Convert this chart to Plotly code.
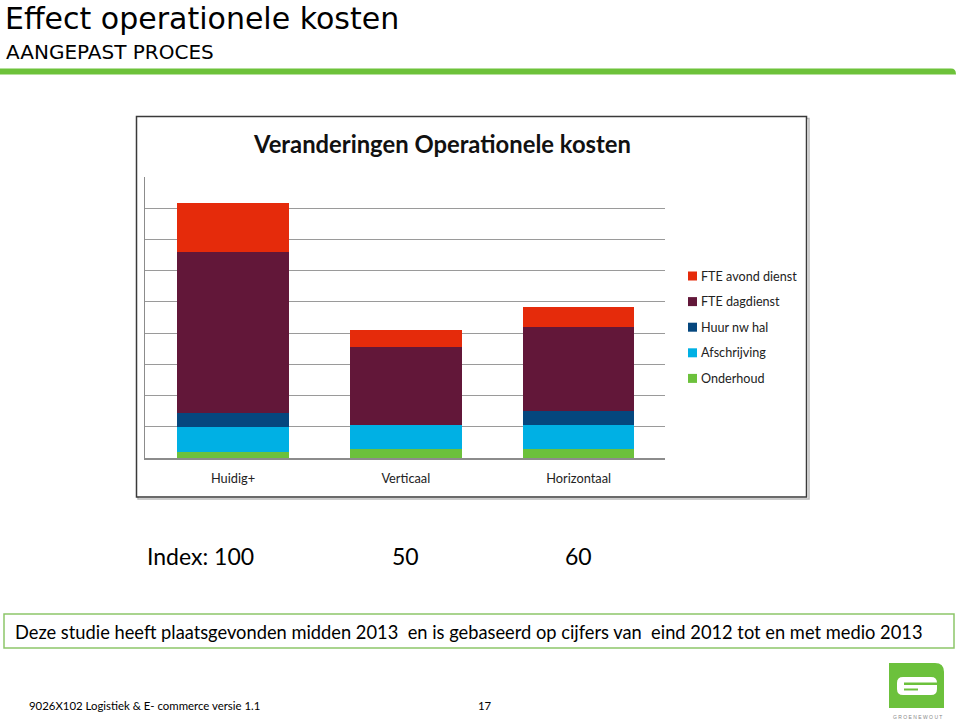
import plotly.graph_objects as go

# ---------------- data ----------------
categories = ["Huidig+", "Verticaal", "Horizontaal"]
series_names = ["Onderhoud", "Afschrijving", "Huur nw hal", "FTE dagdienst", "FTE avond dienst"]
onderhoud = [0.19, 0.28, 0.28]
afschrijving = [0.79, 0.79, 0.79]
huur_nw_hal = [0.46, 0.0, 0.43]
fte_dagdienst = [5.17, 2.48, 2.69]
fte_avond_dienst = [1.57, 0.54, 0.66]
index_labels = ["Index: 100", "50", "60"]

series_values = [onderhoud, afschrijving, huur_nw_hal, fte_dagdienst, fte_avond_dienst]
series_colors = ["#6CC13C", "#00B0E4", "#05477E", "#621739", "#E52B0B"]

# ---------------- geometry helpers (pixel -> paper) ----------------
W, H = 960, 722
PL, PR, PT, PB = 145, 665, 177, 458


def fx(x):
    return (x - PL) / (PR - PL)


def fy(y):
    return (PB - y) / (PB - PT)


def path(cmds):
    out = []
    for c in cmds:
        if isinstance(c, str):
            out.append(c)
        else:
            out.append(f"{fx(c[0]):.5f},{fy(c[1]):.5f}")
    return " ".join(out)


fig = go.Figure()
for name, vals, col in zip(series_names, series_values, series_colors):
    fig.add_trace(go.Bar(
        x=categories, y=vals, name=name,
        marker=dict(color=col, line=dict(width=0)),
        hoverinfo="name+y", showlegend=False,
    ))

shapes = []
annotations = []

# slide title & subtitle
annotations.append(dict(text="Effect operationele kosten", x=fx(3), y=fy(-1), xref="paper", yref="paper",
                        xanchor="left", yanchor="top", showarrow=False,
                        font=dict(family="DejaVu Sans", size=30, color="#000")))
annotations.append(dict(text="AANGEPAST PROCES", x=fx(4), y=fy(52), xref="paper", yref="paper",
                        xanchor="left", yanchor="middle", showarrow=False,
                        font=dict(family="DejaVu Sans", size=20, color="#000")))
# green bar with rounded right end
shapes.append(dict(type="path", xref="paper", yref="paper", line=dict(width=0), fillcolor="#6DC23A",
                   path=path(["M", (0, 68.5), "L", (951, 68.5), "Q", (956, 68.5), (956, 74.5), "L", (0, 74.5), "Z"])))

# chart frame (with slight shadow)
shapes.append(dict(type="rect", xref="paper", yref="paper", x0=fx(138), x1=fx(809), y0=fy(118.5), y1=fy(499),
                   line=dict(color="#BBBBBB", width=1.5), layer="below"))
shapes.append(dict(type="rect", xref="paper", yref="paper", x0=fx(136.5), x1=fx(806.5), y0=fy(116.5), y1=fy(497),
                   line=dict(color="#3A3A3A", width=1.5), fillcolor="white", layer="below"))

# chart title
annotations.append(dict(text="<b>Veranderingen Operationele kosten</b>", x=fx(442), y=fy(144), xref="paper", yref="paper",
                        xanchor="center", yanchor="middle", showarrow=False,
                        font=dict(family="Lato", size=23.8, color="#111")))

# legend (top entry = top of stack)
legend_top, legend_step = 276, 25.6
for i, (name, col) in enumerate(zip(reversed(series_names), reversed(series_colors))):
    yc = legend_top + i * legend_step
    shapes.append(dict(type="rect", xref="paper", yref="paper", line=dict(width=0), fillcolor=col,
                       x0=fx(688), x1=fx(697), y0=fy(yc - 4.5), y1=fy(yc + 4.5)))
    annotations.append(dict(text=name, x=fx(699), y=fy(yc), xref="paper", yref="paper",
                            xanchor="left", yanchor="middle", showarrow=False,
                            font=dict(family="Lato", size=12.6, color="#222")))

# index labels under the chart
for i, (cat, lab) in enumerate(zip(categories, index_labels)):
    annotations.append(dict(text=lab, x=cat, xref="x", y=fy(556), yref="paper",
                            xanchor="right" if i == 0 else "center", xshift=23 if i == 0 else 0,
                            yanchor="middle", showarrow=False,
                            font=dict(family="Lato", size=23, color="#000")))

# bordered note
shapes.append(dict(type="rect", xref="paper", yref="paper", x0=fx(4), x1=fx(954), y0=fy(614), y1=fy(648),
                   line=dict(color="#8DC66A", width=1.5)))
annotations.append(dict(text="Deze studie heeft plaatsgevonden midden 2013  en is gebaseerd op cijfers van  eind 2012 tot en met medio 2013",
                        x=fx(13), y=fy(632), xref="paper", yref="paper", xanchor="left", yanchor="middle",
                        showarrow=False, font=dict(family="Lato", size=18.3, color="#000")))

# footer
annotations.append(dict(text="9026X102 Logistiek & E- commerce versie 1.1", x=fx(27), y=fy(705), xref="paper", yref="paper",
                        xanchor="left", yanchor="middle", showarrow=False,
                        font=dict(family="Lato", size=11.4, color="#000")))
annotations.append(dict(text="17", x=fx(485), y=fy(705), xref="paper", yref="paper",
                        xanchor="center", yanchor="middle", showarrow=False,
                        font=dict(family="Lato", size=11.4, color="#000")))

# logo
shapes.append(dict(type="path", xref="paper", yref="paper", line=dict(width=0), fillcolor="#6CC13C",
                   path=path(["M", (889, 663), "L", (935, 663), "Q", (944, 663), (944, 672), "L", (944, 708),
                              "L", (889, 708), "Z"])))
shapes.append(dict(type="path", xref="paper", yref="paper", line=dict(width=0), fillcolor="white",
                   path=path(["M", (903, 677), "L", (931, 677), "Q", (937, 677), (937, 683), "L", (937, 689),
                              "Q", (937, 695), (931, 695), "L", (903, 695), "Q", (897, 695), (897, 689),
                              "L", (897, 683), "Q", (897, 677), (903, 677), "Z"])))
shapes.append(dict(type="rect", xref="paper", yref="paper", line=dict(width=0), fillcolor="#6CC13C",
                   x0=fx(904), x1=fx(938), y0=fy(682.5), y1=fy(685)))
shapes.append(dict(type="rect", xref="paper", yref="paper", line=dict(width=0), fillcolor="#6CC13C",
                   x0=fx(904), x1=fx(918), y0=fy(688.5), y1=fy(690.5)))
annotations.append(dict(text="G R O E N E W O U T", x=fx(917), y=fy(717), xref="paper", yref="paper",
                        xanchor="center", yanchor="middle", showarrow=False,
                        font=dict(family="Liberation Sans", size=5, color="#888")))

fig.update_layout(
    width=W, height=H,
    margin=dict(l=PL, r=W - PR, t=PT, b=H - PB, pad=0),
    paper_bgcolor="white", plot_bgcolor="white",
    barmode="stack", bargap=0.354,
    showlegend=False,
    xaxis=dict(showline=True, linecolor="#8C8C8C", linewidth=1.5, ticks="outside", ticklen=8,
               tickcolor="rgba(0,0,0,0)", tickfont=dict(family="Lato", size=12.8, color="#222"),
               showgrid=False, fixedrange=True),
    yaxis=dict(range=[0, 9], dtick=1, showticklabels=False, showgrid=True, gridcolor="#9A9A9A", gridwidth=1,
               showline=True, linecolor="#8C8C8C", linewidth=1, zeroline=False, fixedrange=True),
    shapes=shapes, annotations=annotations,
)

fig.write_html("out.html", config={"displayModeBar": False},
               post_script="document.body.style.margin='0';document.body.style.overflow='hidden';")
